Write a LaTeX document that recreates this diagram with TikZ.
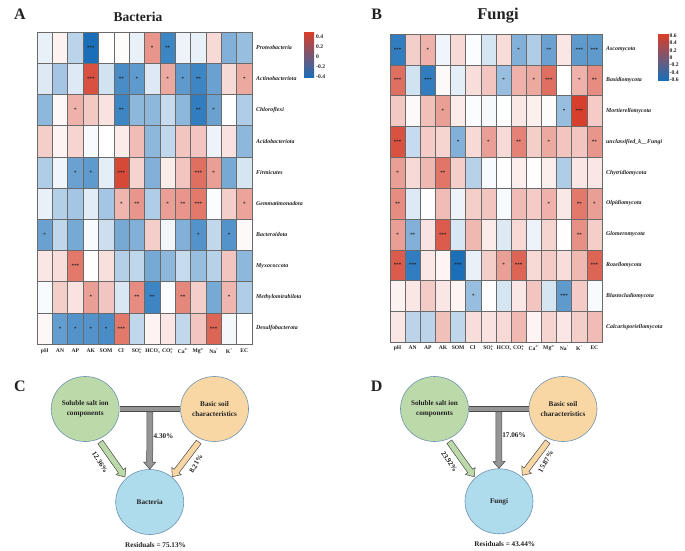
\documentclass[tikz,border=0pt]{standalone}
\usepackage{fontspec}
\setmainfont{Liberation Serif}
\usetikzlibrary{calc,shapes.geometric}
\definecolor{hred}{HTML}{D53F2C}
\definecolor{hblue}{HTML}{1B6FB8}
\definecolor{cgreen}{HTML}{BCD9A9}
\definecolor{corange}{HTML}{F8D7A5}
\definecolor{cblue}{HTML}{AEDCEC}
\definecolor{cedge}{HTML}{6E93B0}
\definecolor{cgray}{HTML}{959595}
\definecolor{cdark}{HTML}{4A4A4A}
\definecolor{cellline}{HTML}{6A6A6A}
\definecolor{txt}{HTML}{222222}
\newcommand\upx[1]{\raisebox{2.4pt}{\fontsize{3.2}{3}\selectfont\bfseries #1}}
\newcommand\dnx[1]{\raisebox{-1pt}{\fontsize{3.2}{3}\selectfont\bfseries #1}}
\newcommand\both[2]{\rlap{\dnx{#1}}\upx{#2}}
\tikzset{
  x=1pt,y=-1pt,
  cellbox/.style={draw=cellline,line width=.55pt,inner sep=0pt,outer sep=0pt,font=\fontsize{5}{5}\selectfont\bfseries,text=txt},
  rowlab/.style={anchor=west,inner sep=0pt,font=\fontsize{5.9}{6}\selectfont\bfseries\itshape,text=txt},
  collab/.style={inner sep=0pt,font=\fontsize{5.6}{6}\selectfont\bfseries,text=txt},
  barlab/.style={anchor=west,inner sep=0pt,font=\fontsize{5.6}{6}\selectfont\bfseries,text=txt},
  panel/.style={inner sep=0pt,font=\fontsize{16}{16}\selectfont\bfseries,text=txt},
  titlelab/.style={inner sep=0pt,font=\fontsize{13.5}{14}\selectfont\bfseries,text=txt},
  blob/.style={ellipse,draw=cedge,line width=.6pt,minimum width=68pt,minimum height=65pt,inner sep=0pt,align=center,font=\fontsize{7.2}{10}\selectfont\bfseries,text=txt},
  pct/.style={inner sep=0pt,font=\fontsize{7.2}{8}\selectfont\bfseries,text=txt},
  fat/.style={draw=cdark,line width=.5pt,line join=miter},
  barout/.style={draw=cdark,line width=5.6pt},
  barin/.style={draw=cgray,line width=4.2pt},
}
\newcommand\starsof[1]{\ifcase#1\or*\or**\or***\fi}
% #1 name, #2 row index, #3 x0, #4 y0, #5 w, #6 h, #7 values
\newcommand\heatrow[7]{%
  \foreach \v/\s [count=\c] in {#7}{%
    \pgfmathsetmacro\p{abs(\v)*100}%
    \ifdim \v pt<0pt \colorlet{cc}{hblue!\p!white}\else \colorlet{cc}{hred!\p!white}\fi
    \node[cellbox,fill=cc,minimum width=#5pt,minimum height=#6pt]
      (#1-#2-\c) at ({#3+(\c-.5)*#5},{#4+(#2-.5)*#6}) {\raisebox{-1pt}{\starsof{\s}}};
  }%
}
\newcommand\fatarrow[3]{%
  \coordinate (hh) at ($(#2)!7pt!(#1)$);
  \draw[fat,fill=#3] ($(#1)!3pt!90:(#2)$) -- ($(hh)!3pt!-90:(#1)$) -- ($(hh)!6pt!-90:(#1)$)
    -- (#2) -- ($(hh)!6pt!90:(#1)$) -- ($(hh)!3pt!90:(#1)$) -- ($(#1)!3pt!-90:(#2)$) -- cycle;
}
\begin{document}
\begin{tikzpicture}
\useasboundingbox[fill=white] (0,0) rectangle (685,551);
% ---------- A
\node[panel] (pA) at (20,14.7) {A};
\node[titlelab] (tA) at (138,17) {Bacteria};
\heatrow{A}{1}{37}{32}{15.36}{31.2}{-.1/0,.07/0,-.3/0,-1/3,0/0,.02/0,-.1/0,.55/1,-.85/2,-.08/0,-.1/0,.2/0,-.55/0,-.45/0}
\heatrow{A}{2}{37}{32}{15.36}{31.2}{-.15/0,-.4/0,-.15/0,.9/3,-.2/0,-.8/2,-.7/1,-.15/0,.45/1,-.7/1,-.85/2,-.65/0,.2/0,.45/1}
\heatrow{A}{3}{37}{32}{15.36}{31.2}{-.5/0,.04/0,.4/1,.28/0,.15/0,-.85/2,-.5/0,-.5/0,-.25/0,-.5/0,-.9/2,-.65/1,0/0,-.35/0}
\heatrow{A}{4}{37}{32}{15.36}{31.2}{.25/0,.06/0,.22/0,-.03/0,0/0,.1/0,.35/0,-.5/0,-.27/0,.3/0,.3/0,-.08/0,.15/0,-.5/0}
\heatrow{A}{5}{37}{32}{15.36}{31.2}{-.35/0,-.07/0,-.65/1,-.7/1,-.12/0,.95/3,.23/0,-.55/0,.1/0,.3/0,.75/3,.5/1,-.6/0,-.18/0}
\heatrow{A}{6}{37}{32}{15.36}{31.2}{-.1/0,-.33/0,-.4/0,-.13/0,-.4/0,.38/1,.55/2,-.35/0,.5/1,.55/2,.7/3,-.02/0,.25/0,.48/1}
\heatrow{A}{7}{37}{32}{15.36}{31.2}{-.65/1,-.28/0,-.6/0,-.03/0,-.22/0,-.6/0,-.55/0,.25/0,-.06/0,-.55/0,-.75/1,-.27/0,-.75/1,.03/0}
\heatrow{A}{8}{37}{32}{15.36}{31.2}{.13/0,.17/0,.7/3,0/0,.16/0,-.33/0,-.28/0,-.6/0,-.5/0,-.25/0,-.45/0,-.32/0,.3/0,-.5/0}
\heatrow{A}{9}{37}{32}{15.36}{31.2}{-.03/0,.25/0,.15/0,.5/1,.3/0,-.17/0,.6/2,-.85/2,-.02/0,.62/2,.25/0,-.6/0,.38/1,-.35/0}
\heatrow{A}{10}{37}{32}{15.36}{31.2}{.04/0,-.68/1,-.75/1,-.75/1,-.8/1,.7/3,-.27/0,.06/0,.13/0,-.27/0,.3/0,.8/3,-.05/0,0/0}
\foreach \t [count=\r] in {Proteobacteria,Actinobacteriota,Chloroflexi,Acidobacteriota,Firmicutes,Gemmatimonadota,Bacteroidota,Myxococcota,Methylomirabilota,Desulfobacterota}
  \node[rowlab] (Ar\r) at (256,{32+(\r-.5)*31.2}) {\t};
\foreach \t [count=\c] in {pH,AN,AP,AK,SOM,Cl\upx{-},SO\both{4}{2-},HCO\both{3}{-},CO\both{3}{2-},Ca\upx{2+},Mg\upx{2+},Na\upx{+},K\upx{+},EC}
  \node[collab] (Ac\c) at ({37+(\c-.5)*15.36},351) {\t};
\shade[top color=hred,middle color=white,bottom color=hblue,draw=none] (304,32.5) rectangle (314,77.5);
\foreach \t/\yy [count=\i] in {0.4/37,0.2/47,0/57,-0.2/67,-0.4/77}
  \node[barlab] (Ab\i) at (316,\yy) {\t};
% ---------- B
\node[panel] (pB) at (376.7,14) {B};
\node[titlelab,font=\fontsize{16.5}{17}\selectfont\bfseries] (tB) at (498,16) {Fungi};
\heatrow{B}{1}{390}{34}{15.14}{30.83}{-.9/3,.25/0,.4/1,-.07/0,.2/0,-.02/0,-.18/0,.18/0,-.55/1,-.35/0,-.65/2,.13/0,-.7/3,-.7/3}
\heatrow{B}{2}{390}{34}{15.14}{30.83}{.75/3,-.2/0,-.9/3,.03/0,-.12/0,.17/0,.3/0,-.45/1,.4/0,.45/1,.75/3,0/0,.4/1,.6/2}
\heatrow{B}{3}{390}{34}{15.14}{30.83}{.28/0,.03/0,.33/0,.5/1,.1/0,-.02/0,-.04/0,-.01/0,.12/0,.08/0,.02/0,-.45/1,1/3,.27/0}
\heatrow{B}{4}{390}{34}{15.14}{30.83}{.9/3,-.25/0,.27/0,.22/0,-.55/1,.2/0,.5/1,.2/0,.65/2,.25/0,.45/1,.3/0,.3/0,.55/2}
\heatrow{B}{5}{390}{34}{15.14}{30.83}{.5/1,.2/0,.37/0,.72/2,.25/0,-.32/0,-.03/0,0/0,.09/0,.01/0,.09/0,-.35/0,.13/0,.13/0}
\heatrow{B}{6}{390}{34}{15.14}{30.83}{.6/2,-.15/0,.01/0,.35/0,-.08/0,.25/0,.3/0,-.03/0,.35/0,.27/0,.4/1,.12/0,.7/2,.5/1}
\heatrow{B}{7}{390}{34}{15.14}{30.83}{.5/1,-.55/2,.15/0,.85/3,-.17/0,.37/0,.1/0,-.15/0,.2/0,-.08/0,.22/0,.01/0,.58/2,.25/0}
\heatrow{B}{8}{390}{34}{15.14}{30.83}{.85/3,-.9/3,.12/0,.05/0,-1/3,-.1/0,.25/0,.5/1,.8/3,.2/0,.27/0,.17/0,.37/0,.8/3}
\heatrow{B}{9}{390}{34}{15.14}{30.83}{.07/0,.13/0,.27/0,.13/0,.05/0,-.45/1,.01/0,-.18/0,.13/0,.3/0,-.18/0,-.7/3,.27/0,-.03/0}
\heatrow{B}{10}{390}{34}{15.14}{30.83}{.13/0,-.3/0,-.3/0,.33/0,-.28/0,.17/0,.15/0,.2/0,.36/0,.05/0,.22/0,.13/0,.25/0,.35/0}
\foreach \t [count=\r] in {Ascomycota,Basidiomycota,Mortierellomycota,unclassified\_k\_\_Fungi,Chytridiomycota,Olpidiomycota,Glomeromycota,Rozellomycota,Blastocladiomycota,Calcarisporiellomycota}
  \node[rowlab] (Br\r) at (606,{34+(\r-.5)*30.83}) {\t};
\foreach \t [count=\c] in {pH,AN,AP,AK,SOM,Cl\upx{-},SO\both{4}{2-},HCO\both{3}{-},CO\both{3}{2-},Ca\upx{2+},Mg\upx{2+},Na\upx{+},K\upx{+},EC}
  \node[collab] (Bc\c) at ({390+(\c-.5)*15.14},348) {\t};
\shade[top color=hred,middle color=white,bottom color=hblue,draw=none] (658,35) rectangle (669,80);
\foreach \t/\yy [count=\i] in {0.6/35.5,0.4/43,0.2/50.3,0/57.7,-0.2/65,-0.4/72.5,-0.6/80}
  \node[barlab] (Bb\i) at (669.5,\yy) {\t};
% ---------- C
\node[panel] (pC) at (20,386.7) {C};
\coordinate (gC) at (100.3,442);  \coordinate (gCt) at (125,477);
\coordinate (oC) at (198.7,442);  \coordinate (oCt) at (172.3,476.7);
\node[blob,fill=cgreen] (sC) at (85.2,409) {Soluble salt ion\\components};
\node[blob,fill=corange] (bC) at (214.5,409) {Basic soil\\characteristics};
\node[blob,fill=cblue] (mC) at (149.7,502) {Bacteria};
\draw[barout] (sC.east) -- (bC.west);
\draw[barin] (sC.east) -- (bC.west);
\coordinate (jC) at ($(sC.east)!.5!(bC.west)+(0,2.8)$);
\fatarrow{jC}{mC.north}{cgray}
\fatarrow{gC}{gCt}{cgreen}
\fatarrow{oC}{oCt}{corange}
\node[pct] (lC1) at (163.5,435.7) {4.30\%};
\node[pct,rotate=-57] (lC2) at (100,462) {12.36\%};
\node[pct,rotate=60] (lC3) at (196,464) {8.21\%};
\node[pct] (lC4) at (155.5,545) {Residuals = 75.13\%};
% ---------- D
\node[panel] (pD) at (376.7,386.7) {D};
\coordinate (gD) at (449.3,441.7);  \coordinate (gDt) at (474.3,476.7);
\coordinate (oD) at (547.7,441.7);  \coordinate (oDt) at (522.3,475.3);
\node[blob,fill=cgreen] (sD) at (434.5,409) {Soluble salt ion\\components};
\node[blob,fill=corange] (bD) at (563,409) {Basic soil\\characteristics};
\node[blob,fill=cblue] (mD) at (499,501.3) {Fungi};
\draw[barout] (sD.east) -- (bD.west);
\draw[barin] (sD.east) -- (bD.west);
\coordinate (jD) at ($(sD.east)!.5!(bD.west)+(0,2.8)$);
\fatarrow{jD}{mD.north}{cgray}
\fatarrow{gD}{gDt}{cgreen}
\fatarrow{oD}{oDt}{corange}
\node[pct] (lD1) at (514,435.3) {17.06\%};
\node[pct,rotate=-57] (lD2) at (449.3,461.7) {23.92\%};
\node[pct,rotate=60] (lD3) at (545.7,461.7) {15.87\%};
\node[pct] (lD4) at (504.7,544) {Residuals = 43.44\%};
\end{tikzpicture}
\end{document}
